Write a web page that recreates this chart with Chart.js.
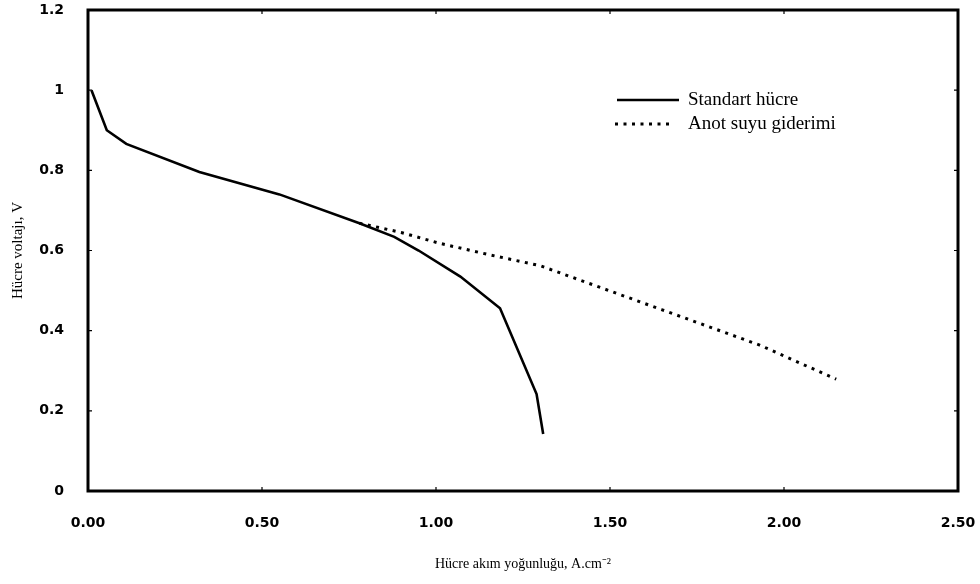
<!DOCTYPE html>
<html>
<head>
<meta charset="utf-8">
<script src="https://cdn.jsdelivr.net/npm/chart.js@4.4.1/dist/chart.umd.min.js"></script>
<style>
  html, body { margin: 0; padding: 0; background: #ffffff; }
  #wrap { width: 980px; height: 584px; position: relative; }
</style>
</head>
<body>
<div id="wrap"><canvas id="c" width="980" height="584"></canvas></div>
<script>
// ---- data ----
const seriesNames = ['Standart hücre', 'Anot suyu giderimi'];
const standartX = [0.01, 0.054, 0.11, 0.32, 0.55, 0.78, 0.88, 0.95, 1.07, 1.184, 1.289, 1.308];
const standartY = [1.0, 0.90, 0.866, 0.796, 0.74, 0.668, 0.634, 0.60, 0.535, 0.456, 0.242, 0.142];
const anotX = [0.78, 0.90, 1.01, 1.15, 1.30, 1.36, 1.65, 1.93, 2.15];
const anotY = [0.668, 0.645, 0.618, 0.59, 0.562, 0.543, 0.452, 0.364, 0.279];
const xTickLabels = ['0.00', '0.50', '1.00', '1.50', '2.00', '2.50'];
const yTickLabels = ['0', '0.2', '0.4', '0.6', '0.8', '1', '1.2'];
const xTitle = 'Hücre akım yoğunluğu, A.cm⁻²';
const yTitle = 'Hücre voltajı, V';

const toPoints = (xs, ys) => xs.map((x, i) => ({ x: x, y: ys[i] }));

const tickFont = { family: "'DejaVu Sans', sans-serif", size: 14, weight: 'bold' };
const serif = "'Liberation Serif', 'Times New Roman', serif";

const framePlugin = {
  id: 'frame',
  afterDatasetsDraw(chart) {
    const { ctx, chartArea: a, scales } = chart;
    ctx.save();
    ctx.strokeStyle = '#000';
    ctx.lineWidth = 1.2;
    scales.y.ticks.forEach(t => {
      const py = scales.y.getPixelForValue(t.value);
      ctx.beginPath();
      ctx.moveTo(a.left, py); ctx.lineTo(a.left + 4, py);
      ctx.moveTo(a.right, py); ctx.lineTo(a.right - 4, py);
      ctx.stroke();
    });
    scales.x.ticks.forEach(t => {
      const px = scales.x.getPixelForValue(t.value);
      ctx.beginPath();
      ctx.moveTo(px, a.bottom); ctx.lineTo(px, a.bottom - 4);
      ctx.moveTo(px, a.top); ctx.lineTo(px, a.top + 4);
      ctx.stroke();
    });
    ctx.lineWidth = 3;
    ctx.beginPath();
    ctx.moveTo(a.left, a.top); ctx.lineTo(a.right, a.top); ctx.lineTo(a.right, a.bottom);
    ctx.lineTo(a.left, a.bottom); ctx.closePath();
    ctx.stroke();
    ctx.restore();
  },
  afterDraw(chart) {
    const { ctx } = chart;
    const items = [
      { ds: chart.data.datasets[0], y: 100, x0: 617, x1: 679 },
      { ds: chart.data.datasets[1], y: 124, x0: 615, x1: 672 }
    ];
    ctx.save();
    items.forEach(it => {
      ctx.strokeStyle = it.ds.borderColor;
      ctx.lineWidth = it.ds.borderWidth;
      ctx.setLineDash(it.ds.borderDash || []);
      ctx.beginPath();
      ctx.moveTo(it.x0, it.y); ctx.lineTo(it.x1, it.y);
      ctx.stroke();
      ctx.setLineDash([]);
      ctx.fillStyle = '#000';
      ctx.font = '19px ' + serif;
      ctx.textBaseline = 'middle';
      ctx.textAlign = 'left';
      ctx.fillText(it.ds.label, 688, it.y);
    });
    ctx.restore();
  }
};

new Chart(document.getElementById('c'), {
  type: 'scatter',
  data: {
    datasets: [
      {
        label: seriesNames[0],
        data: toPoints(standartX, standartY),
        showLine: true,
        borderColor: '#000',
        backgroundColor: '#000',
        borderWidth: 2.6,
        pointRadius: 0,
        tension: 0
      },
      {
        label: seriesNames[1],
        data: toPoints(anotX, anotY),
        showLine: true,
        borderColor: '#000',
        backgroundColor: '#000',
        borderWidth: 3,
        borderDash: [3, 5.5],
        pointRadius: 0,
        tension: 0
      }
    ]
  },
  options: {
    responsive: false,
    animation: false,
    layout: { padding: { left: 0, right: 22, top: 10, bottom: 0 } },
    plugins: {
      legend: { display: false },
      tooltip: { enabled: false }
    },
    scales: {
      x: {
        type: 'linear',
        min: 0, max: 2.5,
        ticks: {
          stepSize: 0.5,
          padding: 24,
          color: '#000',
          font: tickFont,
          maxRotation: 0,
          callback: (v, i) => xTickLabels[i]
        },
        grid: { display: false, drawTicks: false },
        border: { display: false },
        title: {
          display: true,
          text: xTitle,
          color: '#000',
          font: { family: serif, size: 14 },
          padding: { top: 0, bottom: 11 }
        },
        afterFit: s => { s.height = 93; s.paddingLeft = 0; s.paddingRight = 0; }
      },
      y: {
        type: 'linear',
        min: 0, max: 1.2,
        ticks: {
          stepSize: 0.2,
          padding: 24,
          color: '#000',
          font: tickFont,
          callback: (v, i) => yTickLabels[i]
        },
        grid: { display: false, drawTicks: false },
        border: { display: false },
        title: {
          display: true,
          text: yTitle,
          color: '#000',
          font: { family: serif, size: 15 },
          padding: { top: 9, bottom: 0 }
        },
        afterFit: s => { s.width = 88; s.paddingTop = 0; s.paddingBottom = 0; }
      }
    }
  },
  plugins: [framePlugin]
});
</script>
</body>
</html>
